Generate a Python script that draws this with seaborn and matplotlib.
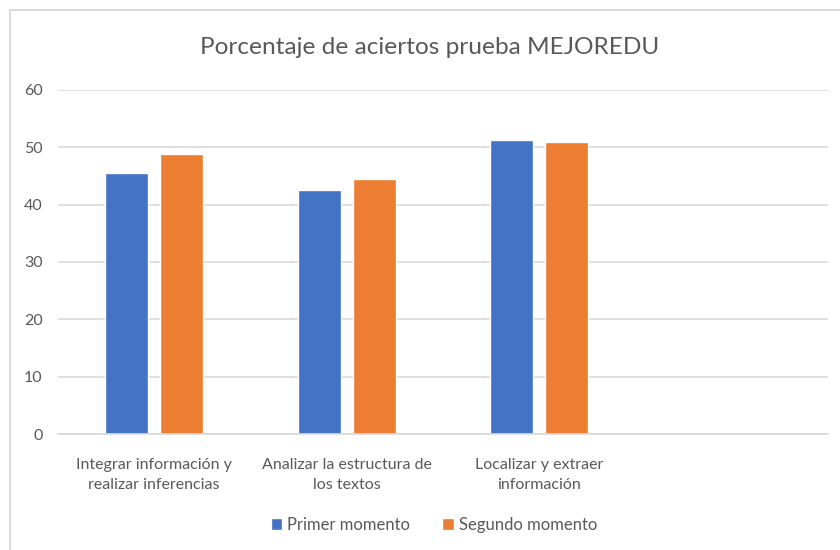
import matplotlib
matplotlib.use("Agg")
import matplotlib.pyplot as plt
import seaborn as sns
import pandas as pd
from matplotlib.patches import Rectangle

categories = ["Integrar información y\nrealizar inferencias",
              "Analizar la estructura de\nlos textos",
              "Localizar y extraer\ninformación"]
primer = [45.6, 42.5, 51.3]
segundo = [48.8, 44.4, 50.9]
series = ["Primer momento", "Segundo momento"]
colors = ["#4472C4", "#ED7D31"]

df = pd.DataFrame({
    "cat": categories * 2,
    "val": primer + segundo,
    "serie": [series[0]] * 3 + [series[1]] * 3,
})

sns.set_theme(style="white")
plt.rcParams['font.family'] = ['Lato', 'DejaVu Sans']

fig = plt.figure(figsize=(8.4, 5.5), dpi=100)
ax = fig.add_axes([58/840, 1-434/550, (828-58)/840, (434-90)/550])

order = categories + [" "]
sns.barplot(data=df, x="cat", y="val", hue="serie", order=order,
            palette=colors, width=0.571, gap=0.218, ax=ax, legend=True,
            saturation=1)

ax.set_xlim(-0.5, 3.5)
ax.set_ylim(0, 60)
ax.set_yticks(range(0, 61, 10))
ax.yaxis.grid(True, color="#d9d9d9", linewidth=1.2)
ax.set_axisbelow(True)
for s in ["left", "right", "top"]:
    ax.spines[s].set_visible(False)
ax.spines["bottom"].set_color("#d9d9d9")
ax.spines["bottom"].set_linewidth(1.2)
ax.set_xlabel("")
ax.set_ylabel("")
ax.tick_params(axis="both", length=0, colors="#595959", labelsize=11.5)
ax.tick_params(axis="y", pad=11)
ax.tick_params(axis="x", pad=17)
ax.set_xticks(range(4))
ax.set_xticklabels(categories + [""], linespacing=1.55)

fig.suptitle("Porcentaje de aciertos prueba MEJOREDU", x=430/840, y=1-47/550,
             va="center", fontsize=17.6, color="#595959")

handles, labels = ax.get_legend_handles_labels()
ax.legend(handles, labels, loc="center", bbox_to_anchor=(434/840, 1-525/550),
          bbox_transform=fig.transFigure, ncol=2, frameon=False,
          handlelength=0.7, handleheight=0.7, handletextpad=0.3,
          columnspacing=1.9, fontsize=12, labelcolor="#595959")

fig.patches.append(Rectangle((10/840, -0.1), 1.2, 1.1 - 10/550,
                             transform=fig.transFigure, fill=False,
                             edgecolor="#d9d9d9", linewidth=1.5))

fig.savefig("out.png", dpi=100)
